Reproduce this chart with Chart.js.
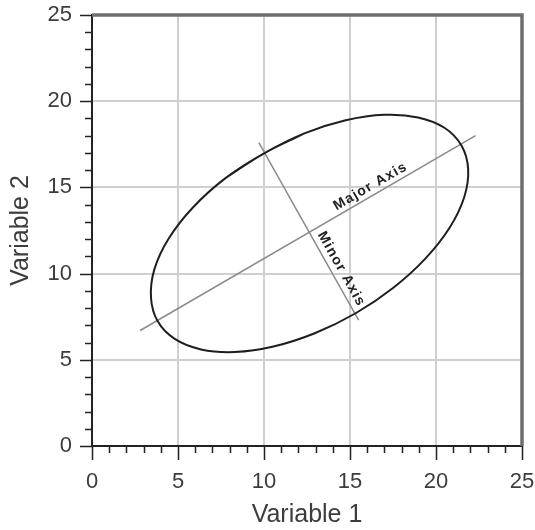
<!DOCTYPE html>
<html>
<head>
<meta charset="utf-8">
<script src="https://cdn.jsdelivr.net/npm/chart.js@4/dist/chart.umd.min.js"></script>
<style>
  html, body { margin: 0; padding: 0; background: #fff; }
  canvas { display: block; }
</style>
</head>
<body>
<canvas id="myChart" width="535" height="530"></canvas>
<script>
// outline of the ellipse, starting at the upper end of the minor axis and going round
const ellipseX = [9.98, 7.78, 5.88, 4.47, 3.63, 3.43, 3.82, 4.81, 6.34, 8.30, 10.55, 12.95, 15.33, 17.52, 19.38, 20.79, 21.64, 21.87, 21.48, 20.49, 18.96, 17.00, 14.75, 12.35];
const ellipseY = [16.96, 15.55, 13.85, 12.05, 10.26, 8.60, 7.23, 6.21, 5.60, 5.45, 5.77, 6.54, 7.70, 9.18, 10.87, 12.66, 14.43, 16.06, 17.43, 18.46, 19.06, 19.21, 18.89, 18.13];

// end points of the two axes
const majorX = [2.8, 22.3];
const majorY = [6.7, 18.0];
const minorX = [9.7, 15.5];
const minorY = [17.6, 7.3];

const majorTicks = [0, 5, 10, 15, 20, 25];
const xTitle = 'Variable 1';
const yTitle = 'Variable 2';
const axisNames = ['Major Axis', 'Minor Axis'];

const FONT = '"Liberation Sans", Arial, sans-serif';
const toPoints = (xs, ys) => xs.map((v, i) => ({ x: v, y: ys[i] }));
const isMajor = v => majorTicks.includes(v);

// wrap one point on each side so the spline runs smoothly through the join
const closedRing = pts => [pts[pts.length - 1], ...pts, pts[0], pts[1]];

// tick marks, top/right frame and the rotated axis names
const overlay = {
    id: 'overlay',
    afterDraw(chart) {
        const { ctx, chartArea: a, scales: { x, y } } = chart;
        ctx.save();

        ctx.strokeStyle = '#222';
        ctx.lineWidth = 1.5;
        ctx.beginPath();
        x.ticks.forEach(t => {
            const px = Math.round(x.getPixelForValue(t.value)) + 0.5;
            ctx.moveTo(px, a.bottom);
            ctx.lineTo(px, a.bottom + (isMajor(t.value) ? 14 : 7));
        });
        y.ticks.forEach(t => {
            const py = Math.round(y.getPixelForValue(t.value)) + 0.5;
            ctx.moveTo(a.left, py);
            ctx.lineTo(a.left - (isMajor(t.value) ? 12 : 7), py);
        });
        ctx.stroke();

        ctx.strokeStyle = '#6e6e6e';
        ctx.lineWidth = 3.5;
        ctx.beginPath();
        ctx.moveTo(a.left, a.top);
        ctx.lineTo(a.right, a.top);
        ctx.lineTo(a.right, a.bottom);
        ctx.stroke();

        const label = (text, xs, ys, t, gap) => {
            const x0 = x.getPixelForValue(xs[0]), y0 = y.getPixelForValue(ys[0]);
            const x1 = x.getPixelForValue(xs[1]), y1 = y.getPixelForValue(ys[1]);
            const ang = Math.atan2(y1 - y0, x1 - x0);
            ctx.save();
            ctx.translate(x0 + (x1 - x0) * t, y0 + (y1 - y0) * t);
            ctx.rotate(ang);
            ctx.font = 'bold 14px ' + FONT;
            ctx.letterSpacing = '1.2px';
            ctx.fillStyle = '#222';
            ctx.textAlign = 'center';
            ctx.textBaseline = 'middle';
            ctx.fillText(text, 0, -gap);
            ctx.restore();
        };
        label(axisNames[0], majorX, majorY, 0.70, 9);
        label(axisNames[1], minorX, minorY, 0.74, 10);

        ctx.restore();
    }
};

const ctx = document.getElementById('myChart').getContext('2d');
new Chart(ctx, {
    type: 'scatter',
    data: {
        datasets: [
            {
                data: closedRing(toPoints(ellipseX, ellipseY)),
                showLine: true,
                borderColor: '#1e1e1e',
                borderWidth: 2,
                tension: 0.4,
                pointRadius: 0
            },
            {
                data: toPoints(majorX, majorY),
                showLine: true,
                borderColor: '#8a8a8a',
                borderWidth: 1.5,
                pointRadius: 0
            },
            {
                data: toPoints(minorX, minorY),
                showLine: true,
                borderColor: '#8a8a8a',
                borderWidth: 1.5,
                pointRadius: 0
            }
        ]
    },
    options: {
        responsive: false,
        animation: false,
        layout: { padding: { top: 15, right: 13, left: 0, bottom: 0 } },
        plugins: {
            legend: { display: false },
            tooltip: { enabled: false }
        },
        scales: {
            x: {
                type: 'linear',
                min: 0,
                max: 25,
                afterFit: s => { s.height = 84; },
                ticks: {
                    stepSize: 1,
                    autoSkip: false,
                    maxRotation: 0,
                    padding: 0,
                    color: '#3c3c3c',
                    font: { family: FONT, size: 22 },
                    callback: v => isMajor(v) ? String(v) : ''
                },
                grid: {
                    color: c => (c.tick && isMajor(c.tick.value) && c.tick.value !== 0 && c.tick.value !== 25) ? '#cfcfcf' : 'rgba(0,0,0,0)',
                    lineWidth: 2,
                    tickColor: 'rgba(0,0,0,0)',
                    tickLength: 23
                },
                border: { color: '#222', width: 2 },
                title: {
                    display: true,
                    text: xTitle,
                    color: '#3c3c3c',
                    font: { family: FONT, size: 25 },
                    padding: { top: 0, bottom: 0 }
                }
            },
            y: {
                type: 'linear',
                min: 0,
                max: 25,
                afterFit: s => { s.width = 92; },
                ticks: {
                    stepSize: 1,
                    autoSkip: false,
                    padding: 0,
                    color: '#3c3c3c',
                    font: { family: FONT, size: 22 },
                    callback: v => isMajor(v) ? String(v) : ''
                },
                grid: {
                    color: c => (c.tick && isMajor(c.tick.value) && c.tick.value !== 0 && c.tick.value !== 25) ? '#cfcfcf' : 'rgba(0,0,0,0)',
                    lineWidth: 2,
                    tickColor: 'rgba(0,0,0,0)',
                    tickLength: 20
                },
                border: { color: '#222', width: 2 },
                title: {
                    display: true,
                    text: yTitle,
                    color: '#3c3c3c',
                    font: { family: FONT, size: 25 },
                    padding: { top: 6, bottom: 0 }
                }
            }
        }
    },
    plugins: [overlay]
});
</script>
</body>
</html>
